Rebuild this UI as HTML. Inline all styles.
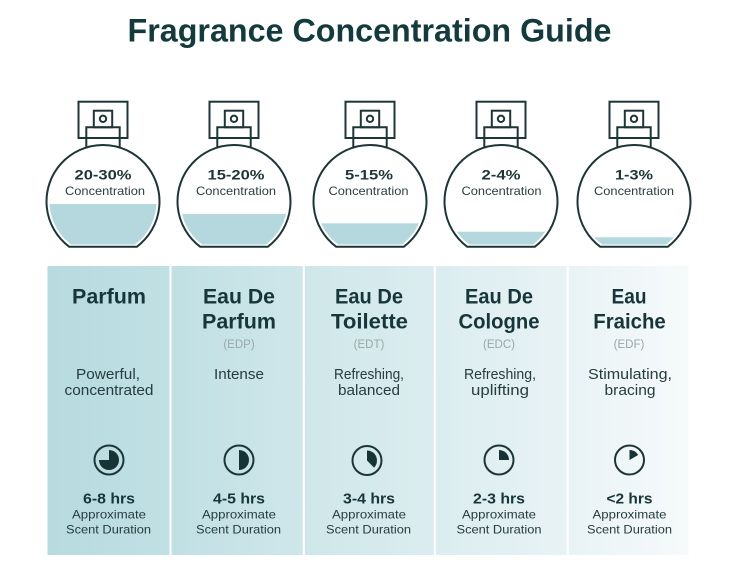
<!DOCTYPE html>
<html><head><meta charset="utf-8"><style>
html,body{margin:0;padding:0;background:#fff;}
svg{display:block;}
text{font-family:"Liberation Sans",sans-serif;}
</style></head><body>
<svg width="754" height="566" viewBox="0 0 754 566" xmlns="http://www.w3.org/2000/svg">
<defs>
<linearGradient id="bg" x1="48" y1="0" x2="688" y2="0" gradientUnits="userSpaceOnUse">
<stop offset="0" stop-color="#b7dbe0"/>
<stop offset="0.2" stop-color="#c1e0e4"/>
<stop offset="0.4" stop-color="#cfe7ea"/>
<stop offset="0.62" stop-color="#dcedf0"/>
<stop offset="0.82" stop-color="#e9f3f5"/>
<stop offset="1" stop-color="#f6fafb"/>
</linearGradient>
<clipPath id="c1"><circle cx="103" cy="201.5" r="53.5"/></clipPath>
<clipPath id="c2"><circle cx="234" cy="201.5" r="53.5"/></clipPath>
<clipPath id="c3"><circle cx="370" cy="201.5" r="53.5"/></clipPath>
<clipPath id="c4"><circle cx="501" cy="201.5" r="53.5"/></clipPath>
<clipPath id="c5"><circle cx="634" cy="201.5" r="53.5"/></clipPath>
</defs>

<!-- Title -->
<text x="369.5" y="41.7" text-anchor="middle" font-size="32" font-weight="bold" fill="#133b3e" textLength="484" lengthAdjust="spacingAndGlyphs">Fragrance Concentration Guide</text>

<!-- Bottles -->
<g fill="#b4d8dd">
<rect x="40" y="204" width="130" height="40.5" clip-path="url(#c1)"/>
<rect x="170" y="214" width="130" height="30.5" clip-path="url(#c2)"/>
<rect x="300" y="223.3" width="140" height="21.2" clip-path="url(#c3)"/>
<rect x="440" y="231.7" width="130" height="12.8" clip-path="url(#c4)"/>
<rect x="570" y="237.3" width="130" height="7.2" clip-path="url(#c5)"/>
</g>
<g fill="none" stroke="#1e3537" stroke-width="2">
<!-- bottle 1 -->
<path d="M69.1 246.7 A56.5 56.5 0 1 1 136.9 246.7 Z"/>
<rect x="78.5" y="101.7" width="49" height="36.3"/>
<path d="M86.3 147.5 V127.3 H119.7 V147.5"/>
<rect x="93.8" y="110.7" width="18.4" height="16.6"/>
<circle cx="103" cy="118.8" r="3.2"/>
<!-- bottle 2 -->
<path d="M200.1 246.7 A56.5 56.5 0 1 1 267.9 246.7 Z"/>
<rect x="209.5" y="101.7" width="49" height="36.3"/>
<path d="M217.3 147.5 V127.3 H250.7 V147.5"/>
<rect x="224.8" y="110.7" width="18.4" height="16.6"/>
<circle cx="234" cy="118.8" r="3.2"/>
<!-- bottle 3 -->
<path d="M336.1 246.7 A56.5 56.5 0 1 1 403.9 246.7 Z"/>
<rect x="345.5" y="101.7" width="49" height="36.3"/>
<path d="M353.3 147.5 V127.3 H386.7 V147.5"/>
<rect x="360.8" y="110.7" width="18.4" height="16.6"/>
<circle cx="370" cy="118.8" r="3.2"/>
<!-- bottle 4 -->
<path d="M467.1 246.7 A56.5 56.5 0 1 1 534.9 246.7 Z"/>
<rect x="476.5" y="101.7" width="49" height="36.3"/>
<path d="M484.3 147.5 V127.3 H517.7 V147.5"/>
<rect x="491.8" y="110.7" width="18.4" height="16.6"/>
<circle cx="501" cy="118.8" r="3.2"/>
<!-- bottle 5 -->
<path d="M600.1 246.7 A56.5 56.5 0 1 1 667.9 246.7 Z"/>
<rect x="609.5" y="101.7" width="49" height="36.3"/>
<path d="M617.3 147.5 V127.3 H650.7 V147.5"/>
<rect x="624.8" y="110.7" width="18.4" height="16.6"/>
<circle cx="634" cy="118.8" r="3.2"/>
</g>

<!-- Bottle labels -->
<g fill="#1e3537" text-anchor="middle">
<text x="103" y="179.3" font-size="14" font-weight="bold" textLength="57" lengthAdjust="spacingAndGlyphs">20-30%</text>
<text x="236" y="179.3" font-size="14" font-weight="bold" textLength="57" lengthAdjust="spacingAndGlyphs">15-20%</text>
<text x="369" y="179.3" font-size="14" font-weight="bold" textLength="48" lengthAdjust="spacingAndGlyphs">5-15%</text>
<text x="501" y="179.3" font-size="14" font-weight="bold" textLength="39" lengthAdjust="spacingAndGlyphs">2-4%</text>
<text x="634" y="179.3" font-size="14" font-weight="bold" textLength="38" lengthAdjust="spacingAndGlyphs">1-3%</text>
<g font-size="12" fill="#2b3f41">
<text x="105" y="195" textLength="80" lengthAdjust="spacingAndGlyphs">Concentration</text>
<text x="236" y="195" textLength="80" lengthAdjust="spacingAndGlyphs">Concentration</text>
<text x="368.5" y="195" textLength="80" lengthAdjust="spacingAndGlyphs">Concentration</text>
<text x="501.5" y="195" textLength="80" lengthAdjust="spacingAndGlyphs">Concentration</text>
<text x="634" y="195" textLength="80" lengthAdjust="spacingAndGlyphs">Concentration</text>
</g>
</g>

<!-- Panel -->
<rect x="47.5" y="266" width="641" height="289" fill="url(#bg)"/>
<g fill="#ffffff">
<rect x="169.5" y="266" width="2" height="289"/>
<rect x="302.8" y="266" width="2" height="289"/>
<rect x="433.8" y="266" width="2" height="289"/>
<rect x="566.8" y="266" width="2" height="289"/>
</g>

<!-- Column headings -->
<g fill="#16363a" font-size="21" font-weight="bold" text-anchor="middle">
<text x="109" y="303.3" textLength="74" lengthAdjust="spacingAndGlyphs">Parfum</text>
<text x="239" y="303.3" textLength="72" lengthAdjust="spacingAndGlyphs">Eau De</text>
<text x="239" y="328.3" textLength="74" lengthAdjust="spacingAndGlyphs">Parfum</text>
<text x="369" y="303.3" textLength="68" lengthAdjust="spacingAndGlyphs">Eau De</text>
<text x="369.5" y="328.3" textLength="77" lengthAdjust="spacingAndGlyphs">Toilette</text>
<text x="499" y="303.3" textLength="68" lengthAdjust="spacingAndGlyphs">Eau De</text>
<text x="499" y="328.3" textLength="81" lengthAdjust="spacingAndGlyphs">Cologne</text>
<text x="629" y="303.3" textLength="35" lengthAdjust="spacingAndGlyphs">Eau</text>
<text x="629.5" y="328.3" textLength="72.5" lengthAdjust="spacingAndGlyphs">Fraiche</text>
</g>
<g fill="#9aa7a9" font-size="11.5" text-anchor="middle">
<text x="239" y="348">(EDP)</text>
<text x="369" y="348">(EDT)</text>
<text x="499" y="348">(EDC)</text>
<text x="629" y="348">(EDF)</text>
</g>

<!-- Descriptions -->
<g fill="#263c3e" font-size="15" text-anchor="middle">
<text x="108" y="379" textLength="64" lengthAdjust="spacingAndGlyphs">Powerful,</text>
<text x="109" y="395" textLength="89" lengthAdjust="spacingAndGlyphs">concentrated</text>
<text x="239" y="379" textLength="50" lengthAdjust="spacingAndGlyphs">Intense</text>
<text x="369" y="379" textLength="70" lengthAdjust="spacingAndGlyphs">Refreshing,</text>
<text x="369" y="395" textLength="62" lengthAdjust="spacingAndGlyphs">balanced</text>
<text x="500" y="379" textLength="72" lengthAdjust="spacingAndGlyphs">Refreshing,</text>
<text x="500" y="395" textLength="58" lengthAdjust="spacingAndGlyphs">uplifting</text>
<text x="630" y="379" textLength="84" lengthAdjust="spacingAndGlyphs">Stimulating,</text>
<text x="630" y="395" textLength="51" lengthAdjust="spacingAndGlyphs">bracing</text>
</g>

<!-- Clocks -->
<g fill="none" stroke="#1e3537" stroke-width="2">
<circle cx="109" cy="460" r="14.5"/>
<circle cx="239" cy="460" r="14.5"/>
<circle cx="367" cy="460.5" r="14.5"/>
<circle cx="499" cy="460" r="14.5"/>
<circle cx="629.5" cy="460" r="14.5"/>
</g>
<g fill="#163335">
<!-- 270 deg -->
<path d="M109 460 V450 A10 10 0 1 1 99 460 Z"/>
<!-- 180 deg -->
<path d="M239 460 V450 A10 10 0 0 1 239 470 Z"/>
<!-- 135 deg -->
<path d="M367 460.5 V450.5 A10 10 0 0 1 374.07 467.57 Z"/>
<!-- 90 deg -->
<path d="M499 460 V450 A10 10 0 0 1 509 460 Z"/>
<!-- ~60 deg -->
<path d="M629.5 460 V450 A10 10 0 0 1 638.16 455 Z"/>
</g>

<!-- Durations -->
<g fill="#16363a" font-size="15" font-weight="bold" text-anchor="middle">
<text x="109" y="503.3" textLength="52" lengthAdjust="spacingAndGlyphs">6-8 hrs</text>
<text x="239" y="503.3" textLength="52" lengthAdjust="spacingAndGlyphs">4-5 hrs</text>
<text x="369" y="503.3" textLength="52" lengthAdjust="spacingAndGlyphs">3-4 hrs</text>
<text x="499" y="503.3" textLength="52" lengthAdjust="spacingAndGlyphs">2-3 hrs</text>
<text x="629.5" y="503.3" textLength="46" lengthAdjust="spacingAndGlyphs">&lt;2 hrs</text>
</g>
<g fill="#263c3e" font-size="12" text-anchor="middle">
<text x="109" y="518.3" textLength="74" lengthAdjust="spacingAndGlyphs">Approximate</text>
<text x="108.5" y="533.3" textLength="85" lengthAdjust="spacingAndGlyphs">Scent Duration</text>
<text x="239" y="518.3" textLength="74" lengthAdjust="spacingAndGlyphs">Approximate</text>
<text x="238.5" y="533.3" textLength="85" lengthAdjust="spacingAndGlyphs">Scent Duration</text>
<text x="369" y="518.3" textLength="74" lengthAdjust="spacingAndGlyphs">Approximate</text>
<text x="368.5" y="533.3" textLength="85" lengthAdjust="spacingAndGlyphs">Scent Duration</text>
<text x="499" y="518.3" textLength="74" lengthAdjust="spacingAndGlyphs">Approximate</text>
<text x="499" y="533.3" textLength="85" lengthAdjust="spacingAndGlyphs">Scent Duration</text>
<text x="629.5" y="518.3" textLength="74" lengthAdjust="spacingAndGlyphs">Approximate</text>
<text x="629.5" y="533.3" textLength="85" lengthAdjust="spacingAndGlyphs">Scent Duration</text>
</g>
</svg>
</body></html>
